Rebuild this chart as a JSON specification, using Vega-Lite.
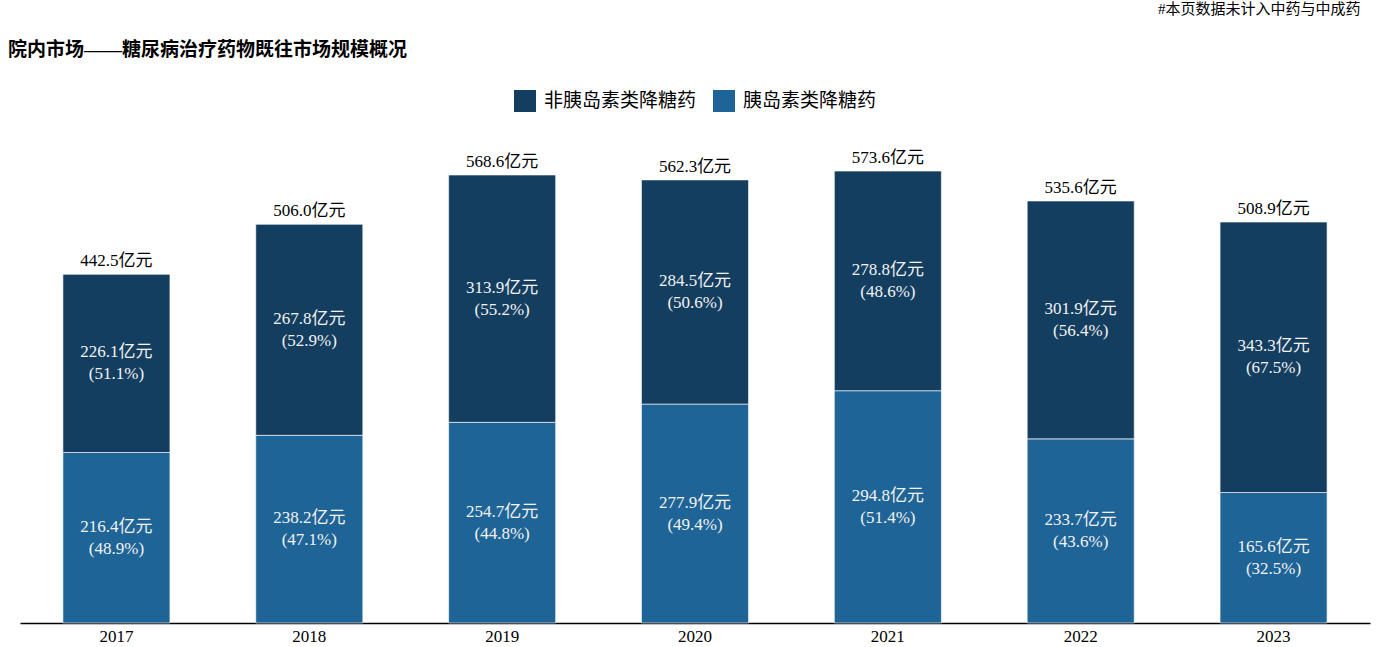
{
  "$schema": "https://vega.github.io/schema/vega-lite/v6.json",
  "autosize": "none",
  "width": 1350,
  "height": 520,
  "padding": {"left": 20, "top": 103, "right": 8, "bottom": 24},
  "background": "#ffffff",
  "config": {
    "view": {"stroke": null},
    "font": "Liberation Serif, Noto Sans CJK SC",
    "text": {"font": "Liberation Serif, Noto Sans CJK SC"}
  },
  "title": {
    "text": "院内市场——糖尿病治疗药物既往市场规模概况",
    "anchor": "start",
    "frame": "group",
    "orient": "top",
    "offset": 0,
    "dx": -12,
    "dy": 59,
    "fontSize": 19,
    "fontWeight": "bold",
    "color": "#000000",
    "font": "Liberation Serif, Noto Sans CJK SC"
  },
  "datasets": {
    "segments": [
      {"year": "2017", "type": "胰岛素类降糖药", "value": 216.4, "label": "216.4亿元\n(48.9%)"},
      {"year": "2017", "type": "非胰岛素类降糖药", "value": 226.1, "label": "226.1亿元\n(51.1%)"},
      {"year": "2018", "type": "胰岛素类降糖药", "value": 238.2, "label": "238.2亿元\n(47.1%)"},
      {"year": "2018", "type": "非胰岛素类降糖药", "value": 267.8, "label": "267.8亿元\n(52.9%)"},
      {"year": "2019", "type": "胰岛素类降糖药", "value": 254.7, "label": "254.7亿元\n(44.8%)"},
      {"year": "2019", "type": "非胰岛素类降糖药", "value": 313.9, "label": "313.9亿元\n(55.2%)"},
      {"year": "2020", "type": "胰岛素类降糖药", "value": 277.9, "label": "277.9亿元\n(49.4%)"},
      {"year": "2020", "type": "非胰岛素类降糖药", "value": 284.5, "label": "284.5亿元\n(50.6%)"},
      {"year": "2021", "type": "胰岛素类降糖药", "value": 294.8, "label": "294.8亿元\n(51.4%)"},
      {"year": "2021", "type": "非胰岛素类降糖药", "value": 278.8, "label": "278.8亿元\n(48.6%)"},
      {"year": "2022", "type": "胰岛素类降糖药", "value": 233.7, "label": "233.7亿元\n(43.6%)"},
      {"year": "2022", "type": "非胰岛素类降糖药", "value": 301.9, "label": "301.9亿元\n(56.4%)"},
      {"year": "2023", "type": "胰岛素类降糖药", "value": 165.6, "label": "165.6亿元\n(32.5%)"},
      {"year": "2023", "type": "非胰岛素类降糖药", "value": 343.3, "label": "343.3亿元\n(67.5%)"}
    ],
    "totals": [
      {"year": "2017", "total": 442.5, "label": "442.5亿元"},
      {"year": "2018", "total": 506.0, "label": "506.0亿元"},
      {"year": "2019", "total": 568.6, "label": "568.6亿元"},
      {"year": "2020", "total": 562.3, "label": "562.3亿元"},
      {"year": "2021", "total": 573.6, "label": "573.6亿元"},
      {"year": "2022", "total": 535.6, "label": "535.6亿元"},
      {"year": "2023", "total": 508.9, "label": "508.9亿元"}
    ]
  },
  "encoding": {
    "x": {
      "field": "year",
      "type": "nominal",
      "scale": {"paddingInner": 0.445, "paddingOuter": 0.2225},
      "axis": {
        "title": null,
        "labelAngle": 0,
        "labelFontSize": 17,
        "labelColor": "#000000",
        "labelFont": "Liberation Serif",
        "labelPadding": 5,
        "ticks": false,
        "domainColor": "#000000",
        "domainWidth": 1.5,
        "grid": false
      }
    }
  },
  "layer": [
    {
      "data": {"name": "segments"},
      "mark": {"type": "bar", "stroke": "#ffffff", "strokeWidth": 0.6},
      "encoding": {
        "y": {
          "field": "value",
          "type": "quantitative",
          "stack": "zero",
          "scale": {"domain": [0, 660], "nice": false},
          "axis": {
            "title": "#本页数据未计入中药与中成药",
            "titleAngle": 0,
            "titleAlign": "right",
            "titleBaseline": "top",
            "titleX": 1340,
            "titleY": -102,
            "titleFontSize": 15,
            "titleFontWeight": "normal",
            "titleColor": "#000000",
            "titleFont": "Liberation Serif, Noto Sans CJK SC",
            "labels": false,
            "ticks": false,
            "domain": false,
            "grid": false
          }
        },
        "order": {"field": "type", "type": "nominal", "sort": "ascending"},
        "color": {
          "field": "type",
          "type": "nominal",
          "scale": {
            "domain": ["非胰岛素类降糖药", "胰岛素类降糖药"],
            "range": ["#143e60", "#1f6496"]
          },
          "legend": {
            "title": null,
            "orient": "none",
            "direction": "horizontal",
            "legendX": 494,
            "legendY": -13,
            "symbolType": "square",
            "symbolSize": 484,
            "symbolStrokeWidth": 0,
            "labelFontSize": 19,
            "labelColor": "#000000",
            "labelFont": "Liberation Serif, Noto Sans CJK SC",
            "labelOffset": 8,
            "columnPadding": 16,
            "padding": 0
          }
        }
      }
    },
    {
      "data": {"name": "segments"},
      "transform": [
        {"stack": "value", "groupby": ["year"], "sort": [{"field": "type", "order": "ascending"}], "as": ["v0", "v1"]},
        {"fold": ["v0", "v1"], "as": ["edge", "pos"]},
        {"aggregate": [{"op": "mean", "field": "pos", "as": "mid"}], "groupby": ["year", "type", "label"]}
      ],
      "mark": {"type": "text", "lineBreak": "\n", "fontSize": 17, "color": "#f2f2f2", "baseline": "middle", "align": "center", "lineHeight": 22, "dy": -11},
      "encoding": {
        "y": {"field": "mid", "type": "quantitative"},
        "text": {"field": "label"}
      }
    },
    {
      "data": {"name": "totals"},
      "mark": {"type": "text", "fontSize": 17, "color": "#000000", "baseline": "bottom", "align": "center", "dy": -4},
      "encoding": {
        "y": {"field": "total", "type": "quantitative"},
        "text": {"field": "label"}
      }
    }
  ]
}
